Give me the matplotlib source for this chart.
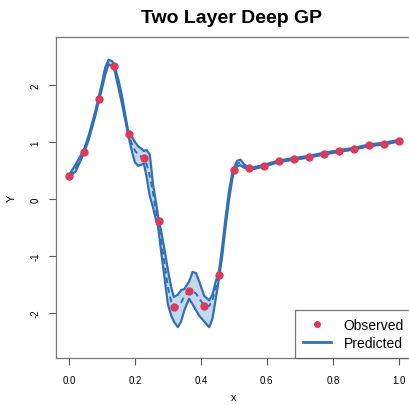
import matplotlib
matplotlib.use("Agg")
import matplotlib.pyplot as plt
import numpy as np

plt.rcParams['font.family'] = ['Liberation Sans', 'DejaVu Sans']

# observed design points
x_obs = np.arange(23) / 22.0
y_obs = [0.40, 0.83, 1.75, 2.34, 1.14, 0.72, -0.39, -1.89, -1.62, -1.87, -1.33, 0.51,
         0.54, 0.58, 0.66, 0.70, 0.74, 0.79, 0.84, 0.88, 0.94, 0.97, 1.02]

# predictive curve
x_pred = [0.00, 0.02, 0.045, 0.06, 0.08, 0.09, 0.10, 0.11, 0.12, 0.13, 0.136, 0.15, 0.16, 0.17,
          0.18, 0.19, 0.20, 0.21, 0.22, 0.227, 0.235, 0.245, 0.255, 0.265, 0.27, 0.28, 0.29,
          0.30, 0.31, 0.318, 0.33, 0.34, 0.35, 0.364, 0.375, 0.385, 0.395, 0.41, 0.425, 0.435,
          0.445, 0.455, 0.465, 0.475, 0.485, 0.495, 0.50, 0.51, 0.52, 0.53, 0.545, 0.56, 0.59,
          0.636, 0.68, 0.727, 0.77, 0.818, 0.864, 0.909, 0.955, 1.00]
mean = [0.40, 0.54, 0.83, 1.08, 1.50, 1.75, 1.98, 2.25, 2.40, 2.38, 2.34, 2.02, 1.76, 1.45,
        1.14, 0.98, 0.85, 0.77, 0.74, 0.72, 0.62, 0.40, 0.10, -0.25, -0.39, -0.75, -1.15,
        -1.55, -1.80, -1.89, -1.88, -1.82, -1.70, -1.62, -1.62, -1.66, -1.75, -1.87, -1.88, -1.78,
        -1.55, -1.33, -0.90, -0.40, 0.05, 0.40, 0.51, 0.62, 0.64, 0.58, 0.54, 0.54, 0.58,
        0.66, 0.70, 0.74, 0.79, 0.84, 0.88, 0.94, 0.97, 1.02]
lower = [0.38, 0.48, 0.80, 1.04, 1.46, 1.71, 1.93, 2.18, 2.36, 2.33, 2.31, 1.95, 1.69, 1.40,
         1.11, 0.85, 0.64, 0.58, 0.60, 0.62, 0.40, 0.05, -0.15, -0.40, -0.48, -0.95, -1.40,
         -1.85, -2.05, -2.15, -2.25, -2.15, -1.95, -1.75, -1.85, -1.95, -2.05, -2.15, -2.25, -2.10,
         -1.75, -1.40, -0.98, -0.48, -0.03, 0.34, 0.48, 0.57, 0.59, 0.55, 0.525, 0.525, 0.565,
         0.645, 0.685, 0.725, 0.775, 0.825, 0.865, 0.925, 0.955, 1.005]
upper = [0.42, 0.60, 0.86, 1.12, 1.54, 1.79, 2.03, 2.31, 2.44, 2.42, 2.37, 2.09, 1.83, 1.50,
         1.17, 1.10, 1.00, 0.92, 0.88, 0.84, 0.86, 0.78, 0.25, -0.10, -0.30, -0.58, -0.90,
         -1.25, -1.55, -1.72, -1.68, -1.60, -1.58, -1.45, -1.28, -1.30, -1.45, -1.70, -1.78, -1.68,
         -1.45, -1.26, -0.82, -0.32, 0.13, 0.45, 0.54, 0.67, 0.69, 0.61, 0.555, 0.555, 0.595,
         0.675, 0.715, 0.755, 0.805, 0.855, 0.895, 0.955, 0.985, 1.035]

red = '#dc3a5a'
blue = '#3270b6'
band = '#c4d7ec'

fig = plt.figure(figsize=(4.09, 4.06), dpi=100)
ax = fig.add_axes([0.1364, 0.1158, 0.8709, 0.7906])

ax.fill_between(x_pred, lower, upper, color=band, lw=0)
ax.plot(x_pred, lower, color=blue, lw=1.6)
ax.plot(x_pred, upper, color=blue, lw=1.6)
ax.plot(x_pred, mean, color=blue, lw=1.4, ls=(0, (3, 2)))
ax.plot(x_obs, y_obs, 'o', color=red, ms=5, mec=red, zorder=5)

# legend handles
ax.plot([], [], 'o', color=red, ms=4, label='Observed')
ax.plot([], [], color=blue, lw=2, label='Predicted')
h, l = ax.get_legend_handles_labels()
leg = ax.legend(h[-2:], l[-2:], loc='lower right', borderaxespad=0, fontsize=10,
                frameon=True, fancybox=False, edgecolor='#555555', handlelength=2.0,
                handletextpad=0.9, labelspacing=0.25, borderpad=0.6)
leg.get_frame().set_linewidth(0.9)

ax.set_xlim(-0.04, 1.04)
ax.set_ylim(-2.79, 2.84)
ax.set_xticks([0.0, 0.2, 0.4, 0.6, 0.8, 1.0])
ax.set_xticklabels(['0.0', '0.2', '0.4', '0.6', '0.8', '1.0'])
ax.set_yticks([-2, -1, 0, 1, 2])
ax.set_yticklabels(['-2', '-1', '0', '1', '2'], rotation=90, va='center')
ax.tick_params(axis='both', labelsize=7, length=5, width=0.8, color='#555555', pad=7)
ax.tick_params(axis='y', pad=6)
for s in ax.spines.values():
    s.set_color('#777777')
    s.set_linewidth(0.9)

ax.set_xlabel('x', fontsize=8, labelpad=5)
ax.set_ylabel('Y', fontsize=8, labelpad=10)
fig.text(0.567, 0.955, 'Two Layer Deep GP', fontsize=14, fontweight='bold', ha='center', va='center')

fig.savefig('out.png', dpi=100)
